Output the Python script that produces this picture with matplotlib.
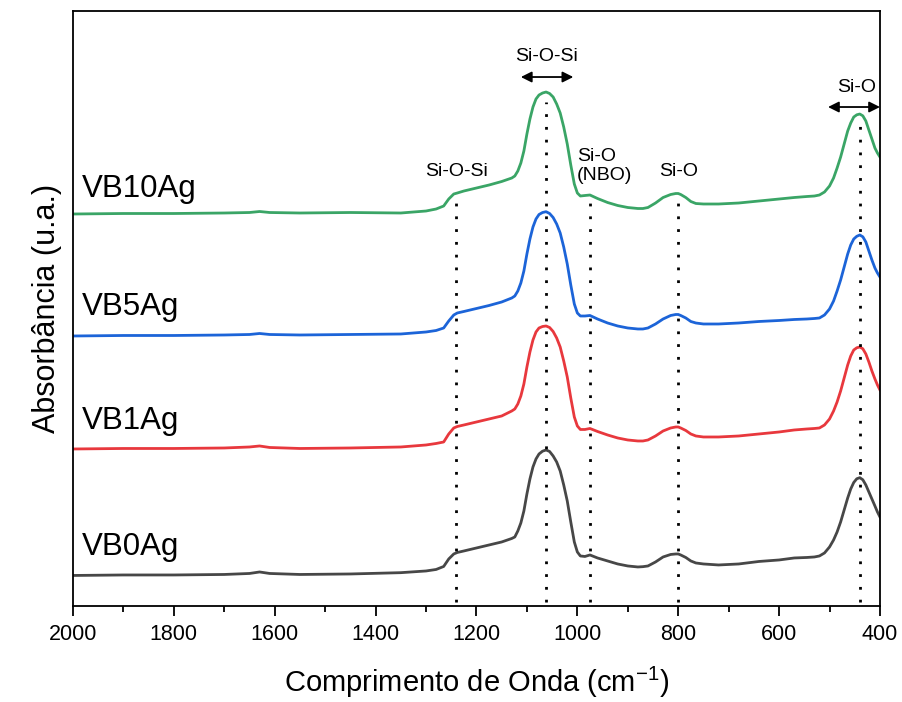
import matplotlib
matplotlib.use("Agg")
import matplotlib.pyplot as plt
from matplotlib.ticker import MultipleLocator

plt.rcParams['font.family'] = ['Liberation Sans', 'DejaVu Sans']

wavenumber = [2000, 1900, 1800, 1700, 1650, 1630, 1610, 1550, 1450, 1350, 1300, 1280, 1265,
              1255, 1245, 1238, 1225, 1200, 1175, 1150, 1130,
              1124, 1118, 1112, 1106, 1100, 1094, 1088, 1082, 1076, 1069, 1062, 1055,
              1048, 1041, 1034, 1027, 1020, 1013, 1006, 1000, 994, 985, 975, 960,
              940, 920, 900, 880, 870, 860, 845, 830, 815, 805, 800, 795,
              785, 775, 765, 750, 720, 680, 640, 600, 570, 545, 530, 520,
              510, 500, 492, 485, 478, 471, 464, 458, 452, 446,
              440, 434, 428, 422, 416, 410, 405, 400]

vb0ag = [0.305, 0.31, 0.31, 0.315, 0.325, 0.34, 0.325, 0.315, 0.32, 0.333, 0.35, 0.365, 0.395,
         0.47, 0.52, 0.535, 0.55, 0.58, 0.61, 0.64, 0.675,
         0.69, 0.75, 0.83, 0.95, 1.12, 1.27, 1.39, 1.47, 1.52, 1.548, 1.56, 1.545,
         1.50, 1.44, 1.35, 1.21, 1.05, 0.84, 0.64, 0.54, 0.50, 0.495, 0.51, 0.48,
         0.45, 0.42, 0.40, 0.39, 0.393, 0.40, 0.44, 0.49, 0.515, 0.52, 0.52, 0.51,
         0.485, 0.45, 0.43, 0.42, 0.41, 0.42, 0.445, 0.46, 0.48, 0.485, 0.49, 0.50,
         0.53, 0.59, 0.66, 0.74, 0.84, 0.96, 1.08, 1.17, 1.235, 1.272,
         1.283, 1.262, 1.21, 1.14, 1.07, 1.00, 0.94, 0.89]

vb1ag = [1.57, 1.575, 1.575, 1.58, 1.59, 1.60, 1.585, 1.575, 1.58, 1.59, 1.61, 1.625, 1.64,
         1.72, 1.78, 1.795, 1.81, 1.84, 1.87, 1.90, 1.95,
         1.97, 2.02, 2.10, 2.22, 2.39, 2.54, 2.66, 2.74, 2.78, 2.795, 2.80, 2.785,
         2.745, 2.68, 2.59, 2.45, 2.29, 2.08, 1.89, 1.80, 1.765, 1.765, 1.775, 1.745,
         1.71, 1.68, 1.66, 1.65, 1.65, 1.66, 1.70, 1.75, 1.78, 1.79, 1.79, 1.78,
         1.755, 1.72, 1.70, 1.69, 1.69, 1.70, 1.72, 1.74, 1.76, 1.77, 1.775, 1.78,
         1.81, 1.87, 1.95, 2.04, 2.15, 2.28, 2.41, 2.50, 2.56, 2.582,
         2.59, 2.572, 2.52, 2.44, 2.35, 2.27, 2.21, 2.16]

vb5ag = [2.70, 2.705, 2.705, 2.71, 2.715, 2.725, 2.715, 2.71, 2.715, 2.72, 2.74, 2.755, 2.78,
         2.85, 2.91, 2.93, 2.945, 2.975, 3.005, 3.04, 3.08,
         3.10, 3.15, 3.23, 3.35, 3.52, 3.67, 3.79, 3.87, 3.915, 3.935, 3.943, 3.925,
         3.885, 3.82, 3.73, 3.59, 3.42, 3.21, 3.02, 2.93, 2.90, 2.90, 2.905, 2.87,
         2.83, 2.80, 2.78, 2.77, 2.77, 2.78, 2.82, 2.87, 2.905, 2.915, 2.915, 2.905,
         2.88, 2.845, 2.83, 2.82, 2.82, 2.83, 2.845, 2.855, 2.865, 2.87, 2.875, 2.88,
         2.91, 2.97, 3.05, 3.15, 3.26, 3.39, 3.52, 3.61, 3.67, 3.697,
         3.71, 3.692, 3.64, 3.55, 3.46, 3.38, 3.33, 3.29]

vb10ag = [3.92, 3.925, 3.925, 3.93, 3.935, 3.945, 3.935, 3.93, 3.935, 3.93, 3.95, 3.97, 4.00,
          4.07, 4.12, 4.13, 4.15, 4.18, 4.21, 4.245, 4.28,
          4.30, 4.35, 4.43, 4.55, 4.72, 4.87, 4.99, 5.07, 5.11, 5.13, 5.14, 5.125,
          5.09, 5.02, 4.93, 4.79, 4.62, 4.41, 4.22, 4.13, 4.10, 4.105, 4.11, 4.075,
          4.035, 4.005, 3.985, 3.975, 3.975, 3.985, 4.03, 4.085, 4.115, 4.125, 4.125, 4.115,
          4.085, 4.045, 4.025, 4.02, 4.02, 4.03, 4.05, 4.07, 4.085, 4.095, 4.10, 4.11,
          4.14, 4.20, 4.28, 4.38, 4.49, 4.62, 4.75, 4.83, 4.89, 4.912,
          4.92, 4.902, 4.85, 4.76, 4.67, 4.58, 4.53, 4.49]

sample_names = ["VB0Ag", "VB1Ag", "VB5Ag", "VB10Ag"]
series = [vb0ag, vb1ag, vb5ag, vb10ag]
colors = ["#474747", "#e8383d", "#1c64d8", "#3aa566"]
name_y = [0.59, 1.85, 2.99, 4.17]

band_positions = [1240, 1062, 975, 800, 440]
band_line_top = [4.12, 5.04, 4.06, 4.08, 4.88]
band_line_bottom = 0.04

x_ticks = [2000, 1800, 1600, 1400, 1200, 1000, 800, 600, 400]

fig = plt.figure(figsize=(9.03, 7.02), dpi=100)
ax = fig.add_axes([0.0808, 0.1368, 0.8937, 0.8475])

for y, c in zip(series, colors):
    ax.plot(wavenumber, y, color=c, lw=2.0, solid_joinstyle='round')

for name, ny in zip(sample_names, name_y):
    ax.text(1983, ny, name, fontsize=22.5, ha='left', va='center', color='black')

for bp, top in zip(band_positions, band_line_top):
    ax.plot([bp, bp], [band_line_bottom, top], color='black', lw=2.0,
            linestyle=(0, (1, 3.6)))

tfs = 14
ax.text(1239, 4.35, "Si-O-Si", fontsize=tfs, ha='center', va='center')
ax.text(1062, 5.50, "Si-O-Si", fontsize=tfs, ha='center', va='center')
ax.annotate("", xy=(1008, 5.29), xytext=(1112, 5.29),
            arrowprops=dict(arrowstyle='<|-|>', color='black', lw=1.3, mutation_scale=16,
                            shrinkA=0, shrinkB=0))
ax.text(1001, 4.40, "Si-O\n(NBO)", fontsize=tfs, ha='left', va='center',
        multialignment='left', linespacing=1.1)
ax.text(800, 4.35, "Si-O", fontsize=tfs, ha='center', va='center')
ax.text(447, 5.19, "Si-O", fontsize=tfs, ha='center', va='center')
ax.annotate("", xy=(400, 4.99), xytext=(503, 4.99),
            arrowprops=dict(arrowstyle='<|-|>', color='black', lw=1.3, mutation_scale=16,
                            shrinkA=0, shrinkB=0))

ax.set_xlim(2000, 400)
ax.set_ylim(0, 5.95)
ax.set_xticks(x_ticks)
ax.set_xticklabels([str(t) for t in x_ticks])
ax.xaxis.set_minor_locator(MultipleLocator(100))
ax.tick_params(axis='x', which='major', direction='out', length=7, width=1.3,
               labelsize=15.5, pad=6, top=False)
ax.tick_params(axis='x', which='minor', direction='out', length=4, width=1.3, top=False)
ax.set_yticks([])
for s in ax.spines.values():
    s.set_linewidth(1.3)

ax.set_xlabel("Comprimento de Onda (cm$^{\\mathregular{-1}}$)", fontsize=21, labelpad=14)
ax.set_ylabel("Absorbância (u.a.)", fontsize=22, labelpad=8)

fig.savefig("out.png", dpi=100)
